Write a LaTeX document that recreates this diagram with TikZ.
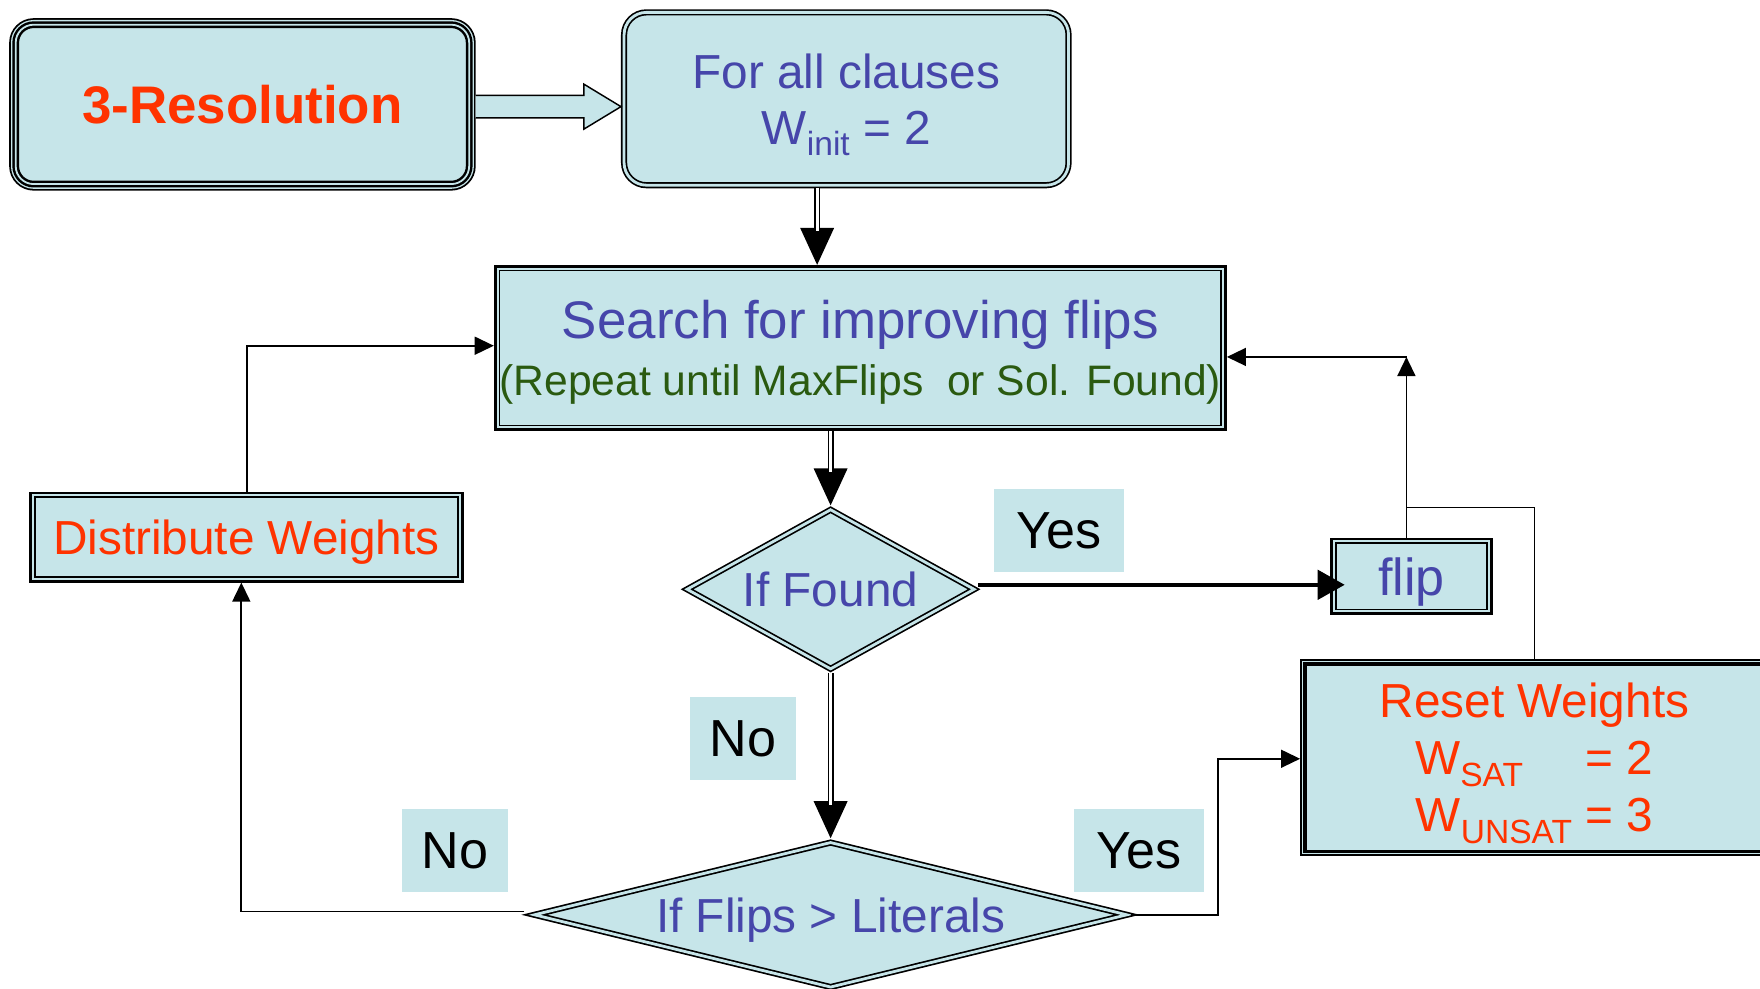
\documentclass[tikz,border=0pt]{standalone}
\usepackage{fontspec}
\setmainfont{Liberation Sans}
\usetikzlibrary{shapes.geometric, arrows.meta, calc}
\definecolor{boxfill}{HTML}{C6E5E9}
\definecolor{tblue}{HTML}{4646AA}
\definecolor{tred}{HTML}{FF3300}
\definecolor{tgreen}{HTML}{2A5A10}
\newdimen\pxu \pxu=0.01cm
\newcommand\fsmain{\fontsize{12.1pt}{14.5pt}\selectfont}
\newcommand\fsbig{\fontsize{13.2pt}{15pt}\selectfont}
\newcommand\lowsub[1]{\smash{\raisebox{-3pt}{\fontsize{8.5pt}{9pt}\selectfont #1}}}
\newcommand\nodepth[1]{\raisebox{0pt}[\height][0pt]{#1}}
\begin{document}
\begin{tikzpicture}[x=0.01cm, y=-0.01cm,
  box/.style={fill=boxfill, inner sep=0pt, align=center, font=\fsmain},
  dbl/.style={draw, double=boxfill, line width=1.5\pxu, double distance=2.5\pxu, outer sep=2.75\pxu},
  thickthin/.style={preaction={draw=black, line width=10\pxu},
                    preaction={draw=boxfill, line width=5.2\pxu},
                    draw, line width=1.6\pxu, outer sep=5\pxu},
  thinthick/.style={preaction={draw=black, line width=8.4\pxu},
                    preaction={draw=boxfill, line width=5.2\pxu},
                    draw, line width=3\pxu, outer sep=4.2\pxu},
  triple/.style={preaction={draw=black, line width=11.6\pxu},
                 preaction={draw=boxfill, line width=8.4\pxu},
                 draw, line width=6\pxu,
                 postaction={draw=boxfill, line width=1.6\pxu}, outer sep=5.8\pxu},
  lab/.style={fill=boxfill, inner sep=0pt, minimum height=74\pxu, font=\fsbig},
  tarrow/.style={line width=1.5\pxu, -{Triangle[length=0.17cm, width=0.16cm]}},
  bigarrow/.style={line width=3.5\pxu, -{Triangle[length=0.24cm, width=0.26cm]}},
  dblhead/.style={line width=1.3\pxu, -{Triangle[length=0.33cm, width=0.30cm]}},
  dblshaft/.style={line width=1.4\pxu, double=white, double distance=2.6\pxu, shorten >=0.3cm},
]
\useasboundingbox (0,0) rectangle (1568,881);
\clip (0,0) rectangle (1568,881);

% nodes
\node[box, triple, rounded corners=16\pxu, minimum width=404\pxu, minimum height=142\pxu,
      text=tred, font=\fontsize{13.4pt}{15pt}\selectfont\bfseries] (res) at (216,93) {3-Resolution};
\node[box, dbl, rounded corners=20\pxu, minimum width=396\pxu, minimum height=154\pxu,
      text=tblue, font=\fontsize{12.1pt}{14.2pt}\selectfont] (fa) at (754,88)
      {For all clauses\\W\lowsub{init} = 2};
\node[box, thickthin, minimum width=637\pxu, minimum height=138\pxu, text=tblue,
      font=\fontsize{13.4pt}{14.5pt}\selectfont] (s) at (766.5,310)
      {Search for improving flips\\\nodepth{\color{tgreen}\fontsize{10.8pt}{14.5pt}\selectfont (Repeat until MaxFlips\ \ or Sol. Found)}};
\node[box, thickthin, minimum width=377\pxu, minimum height=71\pxu, text=tred] (dist) at (219.5,478.5) {\nodepth{Distribute Weights}};
\node[box, dbl, diamond, minimum width=258\pxu, minimum height=144\pxu, text=tblue] (if) at (740,525) {\makebox[0pt]{If Found}};
\node[box, thickthin, minimum width=135\pxu, minimum height=59\pxu, text=tblue, font=\fsbig] (flip) at (1257.5,513.5) {\nodepth{flip}};
\node[box, thinthick, minimum width=409\pxu, minimum height=167\pxu, text=tred] (reset) at (1367,675)
      {Reset Weights\\W\lowsub{SAT}\hspace*{56\pxu}= 2\\W\lowsub{UNSAT} = 3};
\node[box, dbl, diamond, minimum width=530\pxu, minimum height=131\pxu, text=tblue] (flips) at (740,815) {\makebox[0pt]{\nodepth{If Flips > Literals}}};

% labels
\node[lab, minimum width=115\pxu] (yes1) at (943.5,473) {Yes};
\node[lab, minimum width=94\pxu] (no1) at (662,658) {No};
\node[lab, minimum width=116\pxu] (yes2) at (1015,758) {Yes};
\node[lab, minimum width=95\pxu] (no2) at (405.5,758) {No};

% hollow block arrow
\coordinate (hs) at ($(res.east)+(0,2)$);
\coordinate (ht) at (fa.west |- hs);
\draw[line width=1.3\pxu, fill=boxfill] ($(hs)+(0,-10)$) -- ($(ht)+(-33,-10)$) -- ($(ht)+(-33,-20)$)
  -- (ht) -- ($(ht)+(-33,20)$) -- ($(ht)+(-33,10)$) -- ($(hs)+(0,10)$);

% double-line arrows
\coordinate (d1) at ($(fa.south)+(-26,0)$);
\draw[dblhead] (d1) -- (d1 |- s.north);
\draw[dblshaft] (d1) -- (d1 |- s.north);
\coordinate (d2) at ($(s.south)+(-26.5,0)$);
\draw[dblhead] (d2) -- (d2 |- if.north);
\draw[dblshaft] (d2) -- (d2 |- if.north);
\draw[dblhead] (if.south) -- (flips.north);
\draw[dblshaft] (if.south) -- (flips.north);

% yes arrow to flip
\coordinate (ya) at ($(if.east)+(0,-4)$);
\draw[bigarrow] (ya) -- ($(flip.west |- ya)+(13,0)$);

% right loop
\coordinate (jt) at (1253,318);
\coordinate (jr) at (1253,452);
\draw[tarrow] (reset.north) |- (jr) -- (jt) -- (jt -| s.east);
\draw[tarrow] (flip.north -| jt) -- (jt);

% left loop
\draw[tarrow] ($(flips.west)+(-5,-3)$) -| ($(dist.south)+(-4.5,0)$);
\draw[tarrow] ($(dist.north)+(0.5,0)$) |- ($(s.west)+(0,-2)$);

% flips yes to reset
\draw[tarrow] (flips.east) -| ($(reset.west)+(-73,1)$) -- ($(reset.west)+(0,1)$);
\end{tikzpicture}
\end{document}
